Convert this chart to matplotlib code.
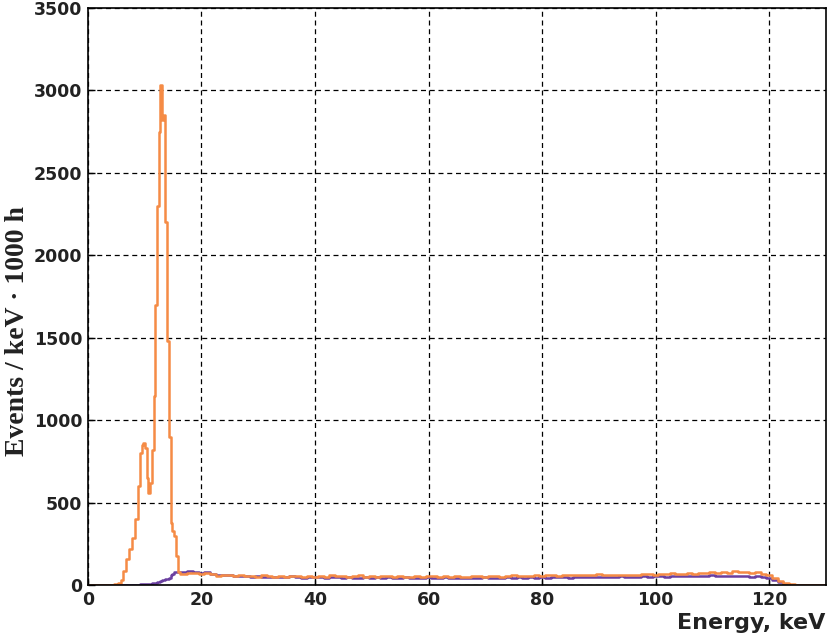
"""Energy spectrum — two overlaid event-rate histograms."""

import matplotlib
matplotlib.use("Agg")
import matplotlib.pyplot as plt

ORANGE = "#F58B45"
PURPLE = "#6A3FA0"

# --- Data: low-energy region (finer bins) ---
energy_low = [0, 1, 2, 3, 4, 5, 5.5, 6, 6.5, 7, 7.5, 8, 8.5, 9, 9.3, 9.6, 9.9,
              10.2, 10.5, 10.8, 11.1, 11.4, 11.7, 12.0, 12.3, 12.6, 12.9, 13.2,
              13.5, 13.8, 14.1, 14.4, 14.7, 15.0, 15.3, 15.6, 16.0, 16.5]
orange_low = [2, 2, 3, 3, 4, 8, 15, 30, 90, 160, 220, 290, 400, 600, 800, 850,
              860, 830, 650, 560, 620, 820, 1150, 1700, 2300, 2750, 3030, 2820,
              2850, 2200, 1480, 900, 380, 330, 300, 180, 80, 72]
purple_low = [0, 0, 0, 0, 0, 0, 0, 0, 0, 1, 2, 3, 4, 5, 6, 6, 7, 8, 8, 9, 10,
              12, 14, 16, 18, 20, 24, 30, 35, 38, 40, 45, 60, 72, 80, 82, 84, 83]

# --- Data: flat region, 1 keV bins ---
energy_high = list(range(17, 131))
orange_high = [72, 78, 74, 70, 76, 72, 58, 66, 60, 55, 62, 54, 58, 52, 60, 55,
               50, 57, 52, 58, 54, 50, 56, 53, 57, 51, 62, 58, 54, 49, 55, 60,
               52, 56, 50, 54, 57, 51, 55, 50, 53, 56, 51, 58, 54, 50, 55, 52,
               57, 53, 50, 56, 54, 52, 58, 55, 53, 57, 60, 56, 54, 59, 62, 58,
               63, 60, 57, 64, 61, 66, 62, 65, 63, 68, 64, 60, 66, 63, 61, 65,
               62, 67, 70, 66, 72, 68, 74, 70, 72, 75, 71, 76, 73, 80, 77, 82,
               78, 85, 80, 83, 78, 82, 70, 62, 45, 28, 15, 8, 4, 3, 2, 2, 2, 2]
purple_high = [82, 85, 80, 78, 82, 70, 64, 60, 62, 58, 55, 57, 52, 55, 50, 53,
               48, 52, 49, 54, 50, 47, 51, 48, 50, 46, 52, 48, 45, 50, 47, 44,
               49, 46, 48, 45, 50, 46, 43, 48, 45, 47, 44, 49, 46, 43, 48, 45,
               42, 47, 44, 46, 43, 48, 45, 47, 44, 49, 46, 48, 45, 50, 47, 49,
               46, 51, 48, 50, 47, 52, 49, 51, 48, 53, 50, 52, 49, 54, 51, 53,
               50, 55, 52, 54, 56, 53, 57, 55, 58, 54, 57, 59, 56, 60, 57, 59,
               55, 58, 54, 56, 52, 54, 50, 44, 32, 20, 10, 5, 3, 2, 2, 2, 2, 2]

energy = energy_low + energy_high
orange = orange_low + orange_high
purple = purple_low + purple_high

fig = plt.figure(figsize=(8.3, 6.44), dpi=100)
ax = fig.add_axes([0.106, 0.091, 0.889, 0.897])

ax.plot(energy, purple, color=PURPLE, linewidth=1.8, drawstyle="steps-mid")
ax.plot(energy, orange, color=ORANGE, linewidth=1.8, drawstyle="steps-mid")

ax.set_xlim(0, 130)
ax.set_ylim(0, 3500)
ax.set_xticks(range(0, 121, 20))
ax.set_yticks(range(0, 3501, 500))

ax.grid(True, color="black", linestyle=(0, (4, 3)), linewidth=0.9)
ax.tick_params(direction="in", length=5, width=1, top=False, right=False, pad=4)
for lbl in ax.get_xticklabels() + ax.get_yticklabels():
    lbl.set_fontfamily("DejaVu Sans")
    lbl.set_fontweight("bold")
    lbl.set_fontsize(12.5)
    lbl.set_color("#222")
for sp in ax.spines.values():
    sp.set_linewidth(1.2)

ax.set_xlabel("Energy, keV", loc="right", fontsize=16, fontweight="bold",
              family="DejaVu Sans", color="#222", labelpad=3)
ax.set_ylabel("Events / keV · 1000 h", fontsize=20, fontweight="bold",
              family="Liberation Serif", color="#222")
ax.yaxis.set_label_coords(-0.079, 0.44)

fig.savefig("out.png", dpi=100)
